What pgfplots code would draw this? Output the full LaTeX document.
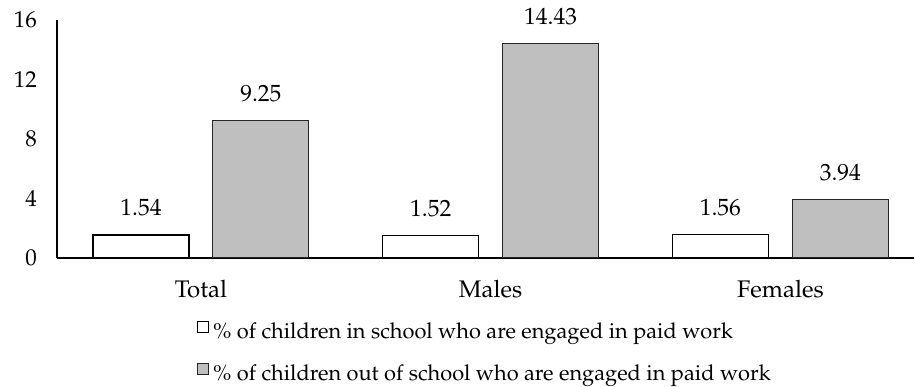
\documentclass[border=0pt]{standalone}
\usepackage[T1]{fontenc}
\usepackage{mathpazo}
\usepackage{pgfplots}
\pgfplotsset{compat=1.18}

\definecolor{barGray}{RGB}{191,191,191}

\begin{document}
\begin{tikzpicture}
\begin{axis}[
  scale only axis,
  width=858pt, height=238pt,
  xmin=-0.497, xmax=2.462,
  ymin=0, ymax=16,
  axis x line*=bottom,
  axis y line*=left,
  axis line style={line width=1.6pt, -},
  ytick={0,4,8,12,16},
  xtick={0,1,2},
  xticklabels={Total,Males,Females},
  major tick length=0pt,
  yticklabel style={font=\fontsize{23}{27}\selectfont, anchor=east, inner sep=0pt, xshift=-20pt},
  xticklabel style={font=\fontsize{24}{28}\selectfont, anchor=north, inner sep=0pt, yshift=-22pt},
  ybar=24pt,
  bar width=96pt,
  clip=false,
  nodes near coords={\pgfmathprintnumber[fixed,fixed zerofill,precision=2]{\pgfplotspointmeta}},
  nodes near coords style={font=\fontsize{23.5}{27}\selectfont, anchor=south, inner sep=0pt, yshift=18pt, black},
  legend style={at={(0.1632,-0.2647)}, anchor=north west, draw=none, fill=none,
    inner sep=0pt, row sep=18pt,
    nodes={inner sep=0pt, text height=16pt, text depth=6pt},
    font=\fontsize{21.8}{26}\selectfont},
  legend cell align=left,
  legend image code/.code={%
    \draw[#1, line width=1pt] (0pt,1.5pt) rectangle (11pt,12.5pt);
    \path (15pt,0pt);},
]
\addplot[fill=white, draw=black, line width=1.3pt] coordinates {(0,1.54) (1,1.52) (2,1.56)};
\addplot[fill=barGray, draw=black!85, line width=1pt] coordinates {(0,9.25) (1,14.43) (2,3.94)};
\legend{\% of children in school who are engaged in paid work,
        \% of children out of school who are engaged in paid work}
\end{axis}
\path ([shift={(-57pt,-126pt)}]current axis.south west) rectangle ([shift={(858pt,258pt)}]current axis.south west);
\end{tikzpicture}
\end{document}
